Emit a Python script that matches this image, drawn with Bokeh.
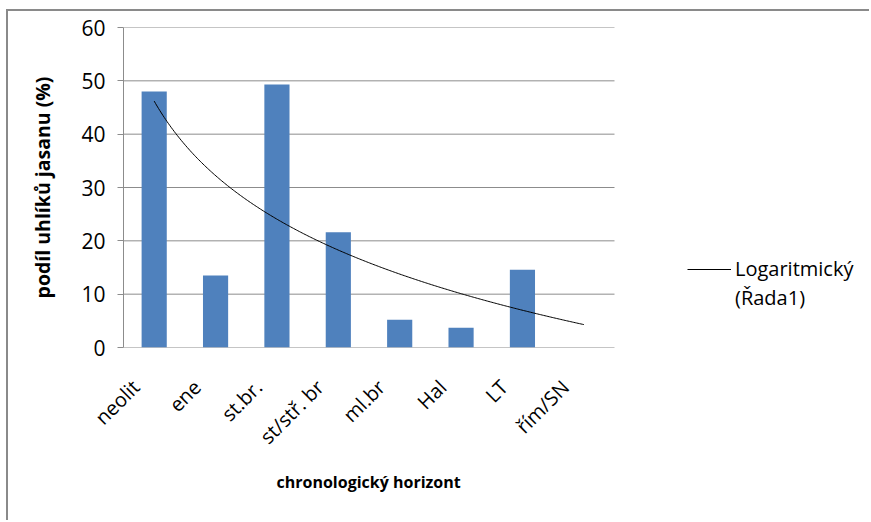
import math
import numpy as np
from bokeh.plotting import figure
from bokeh.models import (Range1d, Legend, LegendItem, ColumnDataSource, FixedTicker,
                          Title, CustomJSTickFormatter)
from bokeh.embed import file_html
from bokeh.resources import INLINE

# Share of ash charcoal per chronological horizon (%)
horizons = ["neolit", "ene", "st.br.", "st/stř. br", "ml.br", "Hal", "LT", "řím/SN"]
share = [48.0, 13.5, 49.3, 21.6, 5.2, 3.7, 14.6, 0.0]
y_ticks = [0, 10, 20, 30, 40, 50, 60]

FONT = "Open Sans"
GRID = "#8c8c8c"
BAR = "#4f81bd"

# geometry: the chart occupies PLOT_W px of the frame, the legend sits in the rest
PLOT_W = 491
FRAME_W = 740
n = len(horizons)
pos = list(range(1, n + 1))
x_end = 0.5 + n * FRAME_W / PLOT_W
LABEL_SHIFT = 0.3  # rotated category labels end a little left of the bar centre

p = figure(
    x_range=Range1d(0.5, x_end),
    y_range=Range1d(0, 60),
    width=863, height=511,
    output_backend="svg", toolbar_location=None,
    min_border_left=115, min_border_right=863 - 115 - FRAME_W,
    min_border_top=16, min_border_bottom=175,
)
p.styles = {
    "margin-left": "6px", "margin-top": "9px",
    "border-left": "2px solid #8a8a8a", "border-top": "2px solid #8a8a8a",
}
p.outline_line_color = None
p.background_fill_color = "white"
p.border_fill_color = "white"

# horizontal gridlines across the category area only (the 0 line is the x axis)
p.xgrid.grid_line_color = None
p.ygrid.grid_line_color = None
p.segment(x0=[0.5] * len(y_ticks), x1=[n + 0.5] * len(y_ticks), y0=y_ticks, y1=y_ticks,
          line_color=GRID, line_width=1)

# bars
src = ColumnDataSource(dict(x=pos, top=share))
p.vbar(x="x", top="top", width=0.41, source=src, color=BAR, line_color=None)

# logarithmic trend (least squares of share against ln(position))
a, b = np.polyfit(np.log(pos), np.array(share), 1)
tx = np.linspace(1, n, 300)
ty = a * np.log(tx) + b
trend = p.line(tx, ty, line_color="black", line_width=1)
ghost = p.line([], [], line_alpha=0)

# axes
p.yaxis.ticker = y_ticks
p.yaxis.axis_line_color = GRID
p.yaxis.major_tick_line_color = GRID
p.yaxis.major_tick_out = 6
p.yaxis.major_tick_in = 0
p.yaxis.minor_tick_line_color = None
p.yaxis.major_label_text_font = FONT
p.yaxis.major_label_text_font_size = "21px"
p.yaxis.major_label_text_color = "black"
p.yaxis.major_label_standoff = 12
p.yaxis.axis_label = "podíl uhlíků jasanu (%)"
p.yaxis.axis_label_text_font = FONT
p.yaxis.axis_label_text_font_style = "bold"
p.yaxis.axis_label_text_font_size = "19.5px"
p.yaxis.axis_label_text_color = "black"
p.yaxis.axis_label_standoff = 22

p.xaxis.ticker = FixedTicker(ticks=[i - LABEL_SHIFT for i in pos])
p.xaxis.formatter = CustomJSTickFormatter(args=dict(names=horizons),
                                          code="return names[index]")
p.xaxis.axis_line_color = None
p.xaxis.major_tick_line_color = None
p.xaxis.minor_tick_line_color = None
p.xaxis.major_label_orientation = math.pi / 4
p.xaxis.major_label_text_font = FONT
p.xaxis.major_label_text_font_size = "20px"
p.xaxis.major_label_text_color = "black"
p.xaxis.major_label_standoff = 30

# x title, placed under the category area
x_title = Title(text="chronologický horizont", align="left", offset=153, standoff=15,
                text_font=FONT, text_font_style="bold", text_font_size="16px",
                text_color="black")
p.add_layout(x_title, "below")

legend = Legend(
    items=[LegendItem(label="Logaritmický", renderers=[trend]),
           LegendItem(label="(Řada1)", renderers=[ghost])],
    location=(564, 36),
    padding=0, margin=0, spacing=2,
    glyph_width=44, glyph_height=22, label_height=22, label_standoff=4,
    label_text_font=FONT, label_text_font_size="20px", label_text_color="black",
    border_line_alpha=0, background_fill_alpha=0,
)
p.add_layout(legend)

open("out.html", "w").write(file_html(p, INLINE))
